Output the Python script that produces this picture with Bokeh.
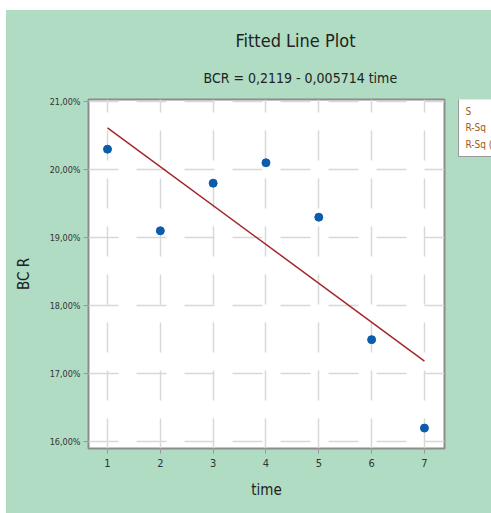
import numpy as np
from bokeh.plotting import figure
from bokeh.layouts import row
from bokeh.models import Range1d, FixedTicker, Label, ColumnDataSource, Title
from bokeh.embed import file_html
from bokeh.resources import INLINE

# ---- data ----
time = [1, 2, 3, 4, 5, 6, 7]
bcr = [20.3, 19.1, 19.8, 20.1, 19.3, 17.5, 16.2]   # percent
y_ticks = [16, 17, 18, 19, 20, 21]
y_tick_labels = ["16,00%", "17,00%", "18,00%", "19,00%", "20,00%", "21,00%"]
x_ticks = [1, 2, 3, 4, 5, 6, 7]
title_text = "Fitted Line Plot"
subtitle_text = "BCR = 0,2119 - 0,005714 time"
legend_lines = ["S", "R-Sq", "R-Sq (adj)"]

NARROW = "'Liberation Sans Narrow', 'DejaVu Sans Condensed', 'Arial Narrow', sans-serif"
GREEN = "#afdcc3"

p = figure(width=450, height=503, output_backend="svg", toolbar_location=None,
           x_range=Range1d(0.64, 7.38), y_range=Range1d(15.9, 21.03),
           min_border_left=82, min_border_right=12, min_border_top=89, min_border_bottom=65)
p.border_fill_color = GREEN
p.background_fill_color = "white"
p.outline_line_color = "#8c8c8c"
p.outline_line_width = 2

# titles
p.add_layout(Title(text=subtitle_text, align="left", offset=115, text_font=NARROW,
                   text_font_size="14px", text_font_style="normal",
                   text_color="#222222", standoff=28), "above")
p.add_layout(Title(text=title_text, align="left", offset=147, text_font=NARROW,
                   text_font_size="18px", text_font_style="normal",
                   text_color="#222222", standoff=6), "above")

# grids
for g in (p.xgrid, p.ygrid):
    g.grid_line_color = "#d8d8d8"
    g.grid_line_width = 1.5
    g.grid_line_dash = "30 18"
p.xgrid.ticker = FixedTicker(ticks=x_ticks)
p.ygrid.ticker = FixedTicker(ticks=y_ticks)

# axes
p.xaxis.ticker = FixedTicker(ticks=x_ticks)
p.yaxis.ticker = FixedTicker(ticks=y_ticks)
p.yaxis.major_label_overrides = {t: l for t, l in zip(y_ticks, y_tick_labels)}
for ax in (p.xaxis[0], p.yaxis[0]):
    ax.axis_line_color = None
    ax.major_tick_line_color = "#9a9a9a"
    ax.major_tick_out = 5
    ax.major_tick_in = 0
    ax.minor_tick_line_color = None
    ax.major_label_text_font = NARROW
    ax.major_label_text_color = "#333333"
    ax.axis_label_text_font = NARROW
    ax.axis_label_text_font_style = "normal"
    ax.axis_label_text_color = "#222222"
    ax.axis_label_text_font_size = "15px"

p.xaxis.major_label_text_font_size = "11px"
p.xaxis.major_label_standoff = 5
p.xaxis.axis_label = "time"
p.xaxis.axis_label_standoff = 11

p.yaxis.major_label_text_font_size = "9px"
p.yaxis.major_label_standoff = 3
p.yaxis.axis_label = "BC R"
p.yaxis.axis_label_standoff = 14

# fitted line from regression of the data
slope, intercept = np.polyfit(time, bcr, 1)
fx = [min(time), max(time)]
fy = [intercept + slope * v for v in fx]
p.line(fx, fy, line_color="#a3262a", line_width=1.5)

src = ColumnDataSource(dict(x=time, y=bcr))
p.scatter("x", "y", source=src, size=8, fill_color="#0b5cad", line_color="#0b5cad")

# side panel holding the summary box (cut by the window edge, as in the reference)
p2 = figure(width=35, height=503, output_backend="svg", toolbar_location=None,
            x_axis_type=None, y_axis_type=None,
            x_range=Range1d(0, 1), y_range=Range1d(0, 1),
            min_border_left=0, min_border_right=0, min_border_top=0, min_border_bottom=0)
p2.title.visible = False
p2.border_fill_color = GREEN
p2.background_fill_color = GREEN
p2.outline_line_color = None
p2.xgrid.visible = False
p2.ygrid.visible = False
p2.add_layout(Label(x=2, y=448 - 98, x_units="screen", y_units="screen",
                    text="\n".join(legend_lines), text_align="left", text_baseline="top",
                    text_font=NARROW, text_font_size="10px", text_color="#9a5a1a",
                    text_line_height=1.5,
                    background_fill_color="white", border_line_color="#9a9a9a",
                    padding=7))

layout = row(p, p2, spacing=0, margin=(10, 0, 0, 6),
             styles={"background-color": GREEN})
open("out.html", "w").write(file_html(layout, INLINE))
